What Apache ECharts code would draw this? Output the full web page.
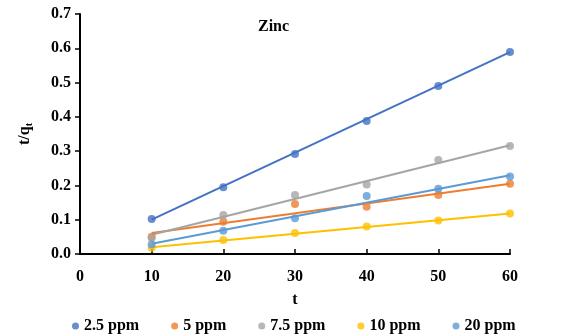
<!DOCTYPE html>
<html>
<head>
<meta charset="utf-8">
<script src="https://cdn.jsdelivr.net/npm/echarts@6/dist/echarts.min.js"></script>
<style>
  html, body { margin: 0; padding: 0; background: #fff; }
  #main { width: 563px; height: 336px; }
</style>
</head>
<body>
<div id="main"></div>
<script>
// t (min)
const times = [10, 20, 30, 40, 50, 60]
const seriesNames = ['2.5 ppm', '5 ppm', '7.5 ppm', '10 ppm', '20 ppm']
const colors = ['#4472C4', '#ED7D31', '#A5A5A5', '#FFC000', '#5B9BD5']

// t/qt measured values
const ppm2_5 = [0.102, 0.195, 0.292, 0.388, 0.490, 0.589]
const ppm5 = [0.050, 0.094, 0.146, 0.138, 0.172, 0.205]
const ppm7_5 = [0.047, 0.114, 0.172, 0.203, 0.274, 0.315]
const ppm10 = [0.018, 0.041, 0.061, 0.080, 0.098, 0.118]
const ppm20 = [0.028, 0.068, 0.104, 0.169, 0.190, 0.226]

// linear trendline ends, read at t = 10 and t = 60
const trendStart = [0.100, 0.061, 0.056, 0.020, 0.030]
const trendEnd = [0.589, 0.205, 0.317, 0.118, 0.230]

const yTicks = [0, 0.1, 0.2, 0.3, 0.4, 0.5, 0.6, 0.7]

const allValues = [ppm2_5, ppm5, ppm7_5, ppm10, ppm20]
const font = '"Liberation Serif", "Times New Roman", serif'

const myChart = echarts.init(document.getElementById('main'))

let series = []
seriesNames.forEach((name, i) => {
  series.push({
    name: name + ' trend',
    type: 'line',
    data: [[times[0], trendStart[i]], [times[times.length - 1], trendEnd[i]]],
    showSymbol: false,
    silent: true,
    lineStyle: { color: colors[i], width: 2 },
    z: 2
  })
})
seriesNames.forEach((name, i) => {
  series.push({
    name: name,
    type: 'scatter',
    data: times.map((t, j) => [t, allValues[i][j]]),
    symbolSize: 8,
    itemStyle: { color: colors[i] },
    z: 3
  })
})

let option = {
  animation: false,
  textStyle: { fontFamily: font },
  title: {
    text: 'Zinc',
    left: 258,
    top: 19,
    padding: 0,
    textStyle: { fontFamily: font, fontSize: 16, fontWeight: 'bold', color: '#000' }
  },
  grid: { left: 80, right: 53, top: 14, bottom: 82 },
  legend: {
    data: seriesNames,
    left: 67,
    top: 313,
    icon: 'circle',
    itemWidth: 7,
    itemHeight: 7,
    itemGap: 32,
    textStyle: { fontFamily: font, fontSize: 16, fontWeight: 'bold', color: '#000' }
  },
  xAxis: {
    type: 'value',
    min: 0,
    max: 60,
    interval: 10,
    name: 't',
    nameLocation: 'middle',
    nameGap: 38,
    nameTextStyle: { fontFamily: font, fontSize: 16, fontWeight: 'bold', color: '#000' },
    axisLine: { lineStyle: { color: '#000', width: 2 } },
    axisTick: { inside: true, length: 5, lineStyle: { color: '#000', width: 1.5 } },
    axisLabel: { fontFamily: font, fontSize: 16, fontWeight: 'bold', color: '#000', margin: 15 },
    splitLine: { show: false }
  },
  yAxis: {
    type: 'value',
    min: yTicks[0],
    max: yTicks[yTicks.length - 1],
    interval: 0.1,
    name: '{a|t/q}{b|t}',
    nameLocation: 'middle',
    nameRotate: 90,
    nameGap: 46,
    nameTextStyle: {
      rich: {
        a: { fontFamily: font, fontSize: 16, fontWeight: 'bold', color: '#000' },
        b: { fontFamily: font, fontSize: 10, fontWeight: 'bold', color: '#000', padding: [8, 0, 0, 0] }
      }
    },
    axisLine: { show: true, lineStyle: { color: '#000', width: 2 } },
    axisTick: { show: true, length: 5, lineStyle: { color: '#000', width: 1.5 } },
    axisLabel: {
      fontFamily: font, fontSize: 16, fontWeight: 'bold', color: '#000', margin: 9,
      formatter: v => v.toFixed(1)
    },
    splitLine: { show: false }
  },
  series: series
}

myChart.setOption(option)
</script>
</body>
</html>
